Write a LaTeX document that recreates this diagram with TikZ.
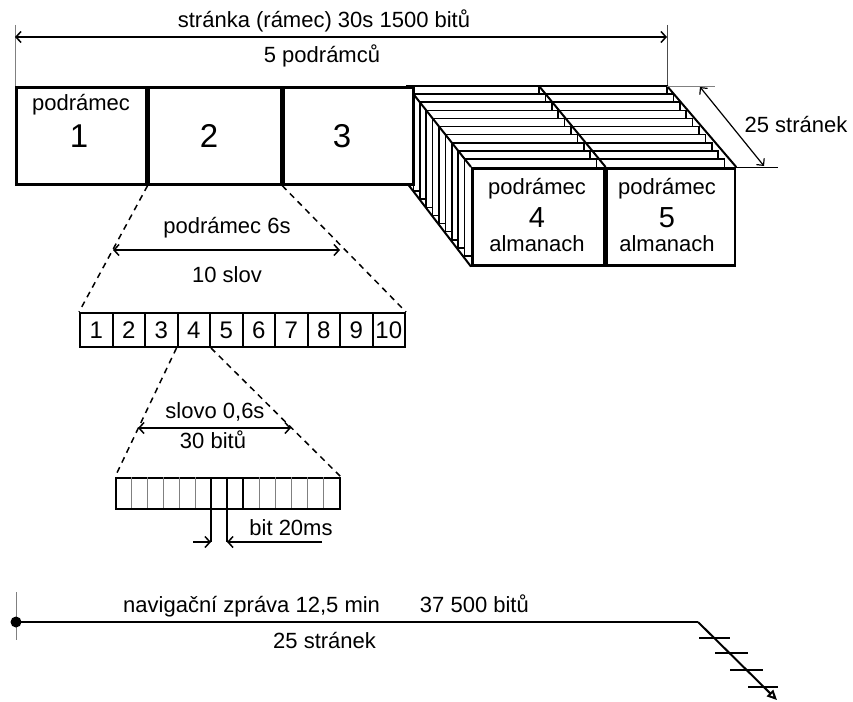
\documentclass[tikz,border=0pt]{standalone}
\usepackage{fontspec}
\setmainfont{Liberation Sans}
\usetikzlibrary{arrows.meta}
\begin{document}
\begin{tikzpicture}[x=1pt,y=-1pt,
  lbl/.style={font=\fontsize{22}{24}\selectfont, inner sep=0pt},
  big/.style={font=\fontsize{33}{36}\selectfont, inner sep=0pt},
  mid/.style={font=\fontsize{29}{32}\selectfont, inner sep=0pt},
  wd/.style={font=\fontsize{24}{26}\selectfont},
  box/.style={draw, line width=2.6pt, minimum height=97pt, inner sep=0pt, fill=white, anchor=north west},
  layer/.style={draw, line width=1.6pt},
  cell/.style={draw, line width=2pt, minimum width=32.5pt, minimum height=34pt, inner sep=0pt, fill=white},
  dimline/.style={line width=1.5pt, {Straight Barb[length=5pt,width=11pt]}-{Straight Barb[length=5pt,width=11pt]}},
  onetip/.style={line width=1.5pt, -{Straight Barb[length=5pt,width=11pt]}},
  ext/.style={line width=1pt, gray},
  dsh/.style={line width=1.5pt, dashed, dash pattern=on 6pt off 5pt},
  tick/.style={line width=2pt}
]
\useasboundingbox (0,0) rectangle (853,701);

% top dimension
\coordinate (tl) at (15,37);
\coordinate (tr) at (667,37);
\coordinate (tlu) at (15,25);
\coordinate (tru) at (667,25);
\draw[ext] (tlu) -- (15,86);
\draw[ext, black!70] (tru) -- (667,86);
\draw[dimline] (tl) -- (tr);
\node[lbl, anchor=base] (title) at (324,28) {stránka (rámec) 30s 1500 bitů};
\node[lbl, anchor=base] (sub) at (322,63) {5 podrámců};

% stack of pages
\coordinate (bl) at (407,86);
\coordinate (br) at (667,86);
\coordinate (bbl) at (407,183);
\coordinate (bdiv) at (539,86);
\fill[white] (407,86) -- (667,86) -- (731,167) -- (731,264) -- (471,264) -- (407,183) -- cycle;
\foreach \i [evaluate=\i as \xx using 407+6.4*\i, evaluate=\i as \yy using 86+8.1*\i] in {0,...,9} {
  \draw[layer, fill=white] (\xx,\yy) rectangle ++(260,97);
  \draw[layer] (\xx+132,\yy) -- ++(0,97);
}
\node[box, minimum width=132pt] (f4) at (471,167) {};
\node[box, minimum width=128pt] (f5) at (f4.north east) {};
\draw[line width=2pt] (bl) -- (f4.north west);
\draw[line width=2pt] (br) -- (f5.north east);
\draw[line width=2pt] (bbl) -- (f4.south west);
\draw[line width=2pt] (bdiv) -- (f4.north east);
\node[lbl, anchor=base] (p4) at (537,194) {podrámec};
\node[mid, anchor=base] (n4) at (537,227) {4};
\node[lbl, anchor=base] (a4) at (537,251) {almanach};
\node[lbl, anchor=base] (p5) at (667,194) {podrámec};
\node[mid, anchor=base] (n5) at (667,227) {5};
\node[lbl, anchor=base] (a5) at (667,251) {almanach};

% subframes 1-3
\node[box, minimum width=130pt] (f1) at (15,86) {};
\node[box, minimum width=132pt] (f2) at (f1.north east) {};
\node[box, minimum width=130pt] (f3) at (f2.north east) {};
\node[lbl, anchor=base] (p1) at (81,110) {podrámec};
\node[big, anchor=base] (n1) at (79,147) {1};
\node[big, anchor=base] (n2) at (209,147) {2};
\node[big, anchor=base] (n3) at (342,147) {3};

% 25 stranek dimension
\coordinate (sa) at (700,87);
\coordinate (sb) at (764,166);
\draw[ext] (br) -- (715,86);
\draw[line width=1pt] (f5.north east) -- (778,167);
\draw[line width=1.2pt, {Straight Barb[length=5pt,width=10pt]}-{Straight Barb[length=5pt,width=10pt]}] (sa) -- (sb);
\node[lbl, anchor=base] (s25) at (796,132) {25 stránek};

% words
\foreach \k in {1,...,10} {
  \node[cell, wd] (w\k) at ({80+32.5*(\k-0.5)},330) {\k};
}
\draw[dsh] (f2.south west) -- (w1.north west);
\draw[dsh] (f2.south east) -- (w10.north east);
\coordinate (pa) at (113,250);
\coordinate (pb) at (340,250);
\draw[dimline] (pa) -- (pb);
\node[lbl, anchor=base] (p6) at (227,233) {podrámec 6s};
\node[lbl, anchor=base] (s10) at (227,282) {10 slov};

% bits
\node[draw, line width=2pt, minimum width=224pt, minimum height=31pt, inner sep=0pt, anchor=north west] (bits) at (115,477) {};
\foreach \k in {1,2,3,4,5,9,10,11,12,13} {
  \draw[line width=1pt, gray] ({115+16*\k},477) -- ({115+16*\k},508);
}
\draw[line width=1.5pt] (243,477) -- (243,508);
\coordinate (ba) at (211,542);
\coordinate (bb) at (227,542);
\draw[line width=1.5pt] (211,477) -- (ba);
\draw[line width=1.5pt] (227,477) -- (bb);
\draw[dsh] (w4.south west) -- (bits.north west);
\draw[dsh] (w4.south east) -- (bits.north east);
\coordinate (sl) at (138,428);
\coordinate (sr) at (291,428);
\draw[dimline] (sl) -- (sr);
\node[lbl, anchor=base] (sv) at (215,418) {slovo 0,6s};
\node[lbl, anchor=base] (b30) at (213,448) {30 bitů};
\coordinate (bal) at (193,542);
\coordinate (bbr) at (322,542);
\draw[onetip] (bal) -- (ba);
\draw[onetip] (bbr) -- (bb);
\node[lbl, anchor=base] (b20) at (291,535) {bit 20ms};

% navigation message
\coordinate (n0) at (16,622);
\coordinate (nk) at (698,622);
\coordinate (ne) at (777,700);
\draw[ext] (16,592) -- (16,640);
\draw[line width=2.6pt] (n0) -- (nk);
\draw[line width=2pt, -{Triangle[open, length=10pt, width=9pt]}] (nk) -- (ne);
\fill (n0) circle (5.5pt);
\draw[tick] (699,638) -- (730,638);
\draw[tick] (715,653) -- (748,653);
\draw[tick] (730,670) -- (763,670);
\draw[tick] (748,687) -- (778,687);
\node[lbl, anchor=base west] (nav) at (123,612) {navigační zpráva 12,5 min\hspace{40pt}37 500 bitů};
\node[lbl, anchor=base west] (s25b) at (273,648) {25 stránek};
\end{tikzpicture}
\end{document}
